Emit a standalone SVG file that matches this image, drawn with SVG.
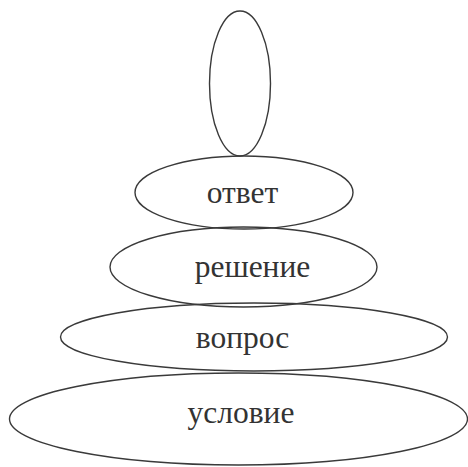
<svg xmlns="http://www.w3.org/2000/svg" width="468" height="467" viewBox="0 0 468 467">
<style>
.e{fill:none;stroke:#3a3a3a;stroke-width:1.4}
.t{font-family:"Liberation Serif","Times New Roman",serif;font-size:31.5px;fill:#333;text-anchor:middle}
</style>
<rect width="468" height="467" fill="#fff"/>
<g id="top"><ellipse class="e" cx="240" cy="83.5" rx="30.5" ry="72.5"/></g>
<g id="otvet"><ellipse class="e" cx="244" cy="192.5" rx="109" ry="36.5"/><text class="t" x="242.5" y="203">ответ</text></g>
<g id="reshenie"><ellipse class="e" cx="243.5" cy="267" rx="133.5" ry="40"/><text class="t" x="252.5" y="277">решение</text></g>
<g id="vopros"><ellipse class="e" cx="254" cy="337" rx="193.5" ry="34"/><text class="t" x="242.5" y="348">вопрос</text></g>
<g id="uslovie"><ellipse class="e" cx="238.5" cy="419" rx="229" ry="46"/><text class="t" x="241" y="423">условие</text></g>
<g id="connectors"/>
</svg>
